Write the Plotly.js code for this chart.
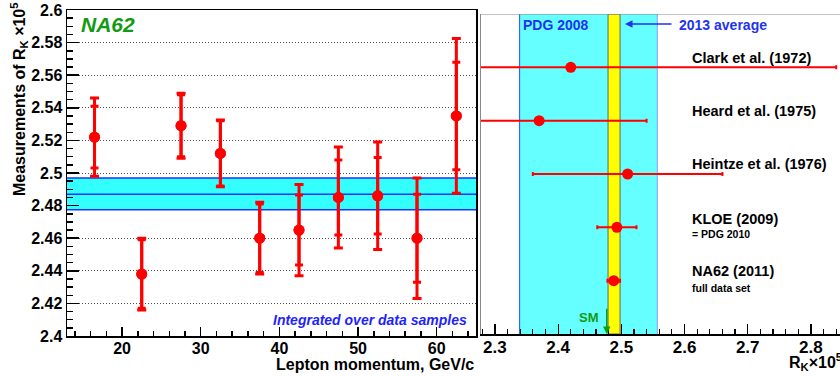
<!DOCTYPE html>
<html><head><meta charset="utf-8">
<script src="https://cdn.plot.ly/plotly-3.0.1.min.js"></script>
<style>html,body{margin:0;padding:0;background:#fff;overflow:hidden}</style>
</head><body><div id="chart" style="width:840px;height:376px"></div>
<script>
// ---- Left panel data: R_K vs lepton momentum ----
const momentum   = [16.5, 22.5, 27.5, 32.5, 37.5, 42.5, 47.5, 52.5, 57.5, 62.5];
const rkValues   = [2.522, 2.438, 2.529, 2.512, 2.460, 2.465, 2.485, 2.486, 2.460, 2.535];
const totalErr   = [0.024, 0.022, 0.020, 0.0205, 0.022, 0.028, 0.031, 0.033, 0.037, 0.0475];
const statErr    = [0.019, 0.021, 0.019, 0.020, 0.021, 0.0215, 0.023, 0.0235, 0.027, 0.033];
const bandLow    = 2.4775;
const bandMid    = 2.487;
const bandHigh   = 2.497;
const leftXRange = [13, 65];
const leftXTicks = [20, 30, 40, 50, 60];
const leftXText  = ['20', '30', '40', '50', '60'];
const leftYTicks = [2.4, 2.42, 2.44, 2.46, 2.48, 2.5, 2.52, 2.54, 2.56, 2.58, 2.6];
const leftYText  = ['2.4', '2.42', '2.44', '2.46', '2.48', '2.5', '2.52', '2.54', '2.56', '2.58', '2.6'];

// ---- Right panel data: world measurements ----
const expNames   = ['Clark et al. (1972)', 'Heard et al. (1975)', 'Heintze et al. (1976)', 'KLOE (2009)', 'NA62 (2011)'];
const expNotes   = ['', '', '', '= PDG 2010', 'full data set'];
const expValues  = [2.42, 2.37, 2.51, 2.493, 2.488];
const expErrs    = [0.42, 0.17, 0.15, 0.031, 0.010];
const expRows    = [5, 4, 3, 2, 1];
const pdg2008    = [2.339, 2.557];
const avg2013    = [2.479, 2.498];
const smValue    = 2.477;
const rightXRange = [2.278, 2.846];
const rightXTicks = [2.3, 2.4, 2.5, 2.6, 2.7, 2.8];
const rightXText  = ['2.3', '2.4', '2.5', '2.6', '2.7', '2.8'];

const W = 840, H = 376;
const FAM = 'Liberation Sans, Arial, Helvetica, sans-serif';
const px = v => v / W;
const py = v => 1 - v / H;
const bold = (size, color) => ({family: FAM, size: size, color: color || 'black', weight: 'bold'});
const hline = (yv, color) => ({x: leftXRange, y: [yv, yv], mode: 'lines', xaxis: 'x', yaxis: 'y', hoverinfo: 'skip',
  line: {color: color, width: 1.5}});

const traces = [
  // average band (drawn as traces so that it hides the grid)
  {x: [leftXRange[0], leftXRange[1], leftXRange[1], leftXRange[0]], y: [bandLow, bandLow, bandHigh, bandHigh],
   mode: 'lines', fill: 'toself', fillcolor: '#33ffff', line: {width: 0, color: '#33ffff'},
   xaxis: 'x', yaxis: 'y', hoverinfo: 'skip'},
  hline(bandLow, '#1a33ff'), hline(bandMid, '#1a33ff'), hline(bandHigh, '#1a33ff'),
  {x: momentum, y: rkValues, mode: 'markers', xaxis: 'x', yaxis: 'y', hoverinfo: 'skip',
   marker: {color: '#ff0000', size: 11},
   error_y: {type: 'data', array: statErr, visible: true, color: '#ff0000', thickness: 3, width: 4}},
  {x: momentum, y: rkValues, mode: 'markers', xaxis: 'x', yaxis: 'y', hoverinfo: 'skip',
   marker: {color: '#ff0000', size: 11},
   error_y: {type: 'data', array: totalErr, visible: true, color: '#ff0000', thickness: 3, width: 4.5}},
  {x: expValues, y: expRows, mode: 'markers', xaxis: 'x2', yaxis: 'y2', hoverinfo: 'skip',
   marker: {color: '#ff0000', size: 11},
   error_x: {type: 'data', array: expErrs, visible: true, color: '#ff0000', thickness: 2, width: 2}}
];

const shapes = [
  // right PDG 2008 band
  {type: 'rect', xref: 'x2', yref: 'y2', x0: pdg2008[0], x1: pdg2008[1], y0: 0, y1: 6,
   fillcolor: '#66ffff', line: {width: 0}, layer: 'below'},
  {type: 'line', xref: 'x2', yref: 'y2', x0: pdg2008[0], x1: pdg2008[0], y0: 0, y1: 6, line: {color: '#3366ff', width: 1.2}, layer: 'below'},
  {type: 'line', xref: 'x2', yref: 'y2', x0: pdg2008[1], x1: pdg2008[1], y0: 0, y1: 6, line: {color: '#99aaff', width: 1.2}, layer: 'below'},
  // 2013 average band
  {type: 'rect', xref: 'x2', yref: 'y2', x0: avg2013[0], x1: avg2013[1], y0: 0, y1: 6,
   fillcolor: '#ffff00', line: {color: '#666655', width: 1}, layer: 'below'},
  // right top frame
  {type: 'line', xref: 'x2', yref: 'y2', x0: rightXRange[0], x1: rightXRange[1], y0: 6, y1: 6, line: {color: '#888888', width: 1}}
];

const annotations = [
  {xref: 'paper', yref: 'paper', x: px(79), y: py(25), xanchor: 'left', yanchor: 'middle', showarrow: false,
   text: '<i>NA62</i>', font: bold(21, '#139a13')},
  {xref: 'paper', yref: 'paper', x: px(469), y: py(320), xanchor: 'right', yanchor: 'middle', showarrow: false,
   text: '<i>Integrated over data samples</i>', font: bold(14, '#1f1fff')},
  {xref: 'paper', yref: 'paper', x: px(19), y: py(0), xanchor: 'center', yanchor: 'top', showarrow: false, textangle: -90,
   text: 'Measurements of R<sub>K</sub> ×10<sup>5</sup>', font: bold(16)},
  {xref: 'paper', yref: 'paper', x: px(476), y: py(364), xanchor: 'right', yanchor: 'middle', showarrow: false,
   text: 'Lepton momentum, GeV/c', font: bold(16)},
  {xref: 'paper', yref: 'paper', x: px(787), y: py(362), xanchor: 'left', yanchor: 'middle', showarrow: false,
   text: 'R<sub>K</sub>×10<sup>5</sup>', font: bold(16)},
  {xref: 'paper', yref: 'paper', x: px(521), y: py(25), xanchor: 'left', yanchor: 'middle', showarrow: false,
   text: 'PDG 2008', font: bold(14, '#2233ee')},
  {xref: 'paper', yref: 'paper', x: px(677), y: py(25), xanchor: 'left', yanchor: 'middle', showarrow: false,
   text: '2013 average', font: bold(14, '#2233ee')},
  {xref: 'paper', yref: 'paper', x: px(625), y: py(24), ax: 48, ay: 0, showarrow: true, text: '',
   arrowhead: 2, arrowsize: 1, arrowwidth: 1.5, arrowcolor: '#2233ee'},
  {xref: 'paper', yref: 'paper', x: px(601), y: py(317), xanchor: 'right', yanchor: 'middle', showarrow: false,
   text: 'SM', font: bold(13, '#139a13')},
  {xref: 'x2', yref: 'y2', x: smValue, y: 0, axref: 'x2', ayref: 'y2', ax: smValue, ay: 0.5, showarrow: true, text: '',
   arrowhead: 2, arrowsize: 1, arrowwidth: 1.5, arrowcolor: '#139a13'}
];
const nameY = [57.7, 110.7, 164.3, 218.7, 271];
const noteY = [0, 0, 0, 234.3, 288.3];
expNames.forEach((n, i) => {
  annotations.push({xref: 'paper', yref: 'paper', x: px(690), y: py(nameY[i]), xanchor: 'left', yanchor: 'middle',
    showarrow: false, text: n, font: bold(14.5)});
  if (expNotes[i]) annotations.push({xref: 'paper', yref: 'paper', x: px(690), y: py(noteY[i]), xanchor: 'left', yanchor: 'middle',
    showarrow: false, text: expNotes[i], font: bold(10.5)});
});

const layout = {
  width: W, height: H, margin: {l: 0, r: 0, t: 0, b: 0},
  paper_bgcolor: 'white', plot_bgcolor: 'white', showlegend: false,
  font: {family: FAM},
  xaxis: {domain: [px(67), px(476)], range: leftXRange, anchor: 'y',
    tickmode: 'array', tickvals: leftXTicks, ticktext: leftXText,
    ticks: 'inside', ticklen: 9, tickwidth: 1.5, tickcolor: 'black', ticklabelstandoff: -3,
    minor: {dtick: 2, tick0: 0, ticks: 'inside', ticklen: 5, tickwidth: 1.5, tickcolor: 'black', showgrid: false},
    showline: true, linecolor: 'black', linewidth: 1.5, mirror: true,
    showgrid: false, zeroline: false, tickfont: bold(16)},
  yaxis: {domain: [40 / H, 366 / H], range: [2.4, 2.6], anchor: 'x',
    tickmode: 'array', tickvals: leftYTicks, ticktext: leftYText,
    ticks: 'inside', ticklen: 12, tickwidth: 1.5, tickcolor: 'black',
    minor: {dtick: 0.005, tick0: 2.4, ticks: 'inside', ticklen: 6, tickwidth: 1.5, tickcolor: 'black', showgrid: false},
    showline: true, linecolor: 'black', linewidth: 1.5, mirror: true,
    showgrid: true, gridcolor: '#555555', griddash: '1px,2px', gridwidth: 1,
    zeroline: false, tickfont: bold(16)},
  xaxis2: {domain: [px(481), 1], range: rightXRange, anchor: 'y2',
    tickmode: 'array', tickvals: rightXTicks, ticktext: rightXText,
    ticks: 'inside', ticklen: 10, tickwidth: 1.2, tickcolor: 'black', ticklabelstandoff: -3,
    minor: {dtick: 0.02, tick0: 2.3, ticks: 'inside', ticklen: 5, tickwidth: 1.2, tickcolor: 'black', showgrid: false},
    showline: true, linecolor: 'black', linewidth: 1.5,
    showgrid: false, zeroline: false, tickfont: bold(17)},
  yaxis2: {domain: [42 / H, 362 / H], range: [0, 6], anchor: 'x2',
    showticklabels: false, ticks: '', showgrid: false, zeroline: false,
    showline: true, linecolor: '#888888', linewidth: 1},
  shapes: shapes, annotations: annotations
};

Plotly.newPlot('chart', traces, layout, {staticPlot: true, displayModeBar: false});
</script></body></html>
